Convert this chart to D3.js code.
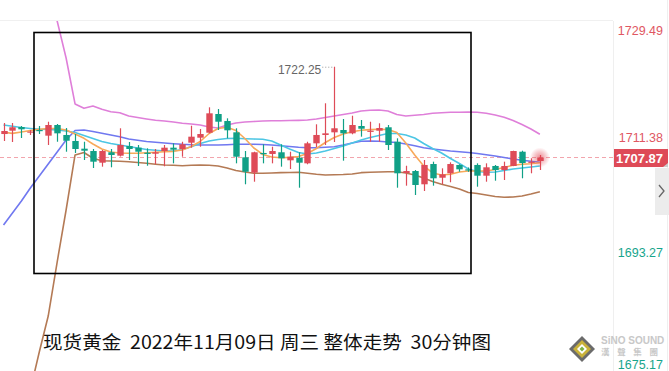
<!DOCTYPE html>
<html>
<head>
<meta charset="utf-8">
<script src="https://cdn.jsdelivr.net/npm/d3@7"></script>
<style>
  html, body { margin: 0; padding: 0; background: #fff; }
  svg { display: block; }
</style>
</head>
<body>
<div id="chart"></div>
<script>
// ---- data (30 min candles) ----
const opens  = [1711.59,1712.12,1712.70,1711.83,1712.23,1711.33,1713.02,1711.44,1710.49,1709.27,
                1708.90,1707.05,1708.70,1708.16,1709.69,1709.43,1708.63,1708.47,1708.90,1709.43,
                1709.22,1710.22,1711.01,1711.80,1714.76,1713.65,1711.86,1707.90,1705.47,1708.59,
                1708.43,1708.70,1707.43,1707.84,1706.95,1710.12,1711.44,1711.86,1712.23,1711.70,
                1712.86,1711.96,1712.12,1712.66,1710.37,1705.42,1705.73,1703.63,1706.84,1704.67,
                1705.37,1706.69,1706.00,1706.69,1704.99,1706.53,1705.89,1706.53,1708.79,1707.05,
                1707.32];
const highs  = [1713.34,1713.34,1712.86,1712.23,1712.86,1713.54,1713.18,1712.54,1711.59,1710.37,
                1709.22,1709.06,1709.22,1712.50,1710.33,1709.85,1709.33,1709.22,1709.85,1710.12,
                1710.37,1712.91,1712.39,1715.82,1715.55,1714.08,1712.50,1708.90,1708.79,1709.96,
                1709.58,1709.96,1708.79,1708.70,1710.37,1713.13,1716.46,1722.25,1713.97,1714.49,
                1713.81,1713.54,1713.29,1713.02,1710.91,1706.57,1705.89,1707.48,1707.21,1706.16,
                1707.11,1706.80,1706.30,1706.95,1706.95,1706.69,1707.21,1708.95,1708.95,1707.75,
                1708.27];
const lows   = [1710.49,1710.33,1710.96,1711.44,1711.59,1709.85,1710.37,1708.79,1708.59,1707.48,
                1706.21,1706.42,1706.32,1708.03,1707.48,1706.53,1706.57,1706.80,1706.48,1706.95,
                1708.00,1709.43,1709.58,1711.70,1712.23,1710.91,1706.95,1703.63,1704.04,1706.95,
                1706.95,1706.42,1706.05,1703.09,1706.80,1709.54,1709.85,1710.33,1707.37,1711.55,
                1711.17,1710.37,1710.37,1709.06,1703.09,1703.41,1701.93,1702.57,1703.41,1703.63,
                1703.95,1705.62,1705.60,1703.25,1704.04,1704.20,1704.31,1706.50,1704.58,1705.37,
                1705.89];
const closes = [1712.07,1712.66,1712.34,1711.99,1712.07,1713.02,1711.70,1710.53,1709.22,1708.95,
                1707.21,1708.90,1708.27,1709.85,1709.22,1708.79,1708.47,1708.70,1709.43,1709.11,
                1709.96,1711.17,1711.59,1714.87,1713.54,1712.18,1708.00,1705.62,1708.70,1708.43,
                1708.90,1707.75,1708.00,1707.05,1710.12,1711.44,1711.70,1712.50,1711.70,1713.02,
                1712.43,1712.12,1712.54,1709.85,1705.37,1705.73,1703.52,1706.69,1704.58,1705.21,
                1706.84,1706.00,1705.90,1704.99,1706.32,1705.89,1706.53,1708.90,1707.00,1707.21,
                1707.87];

// moving averages
const maShort = [1711.86,1711.70,1711.91,1712.15,1712.34,1712.47,1712.47,1712.23,1711.59,1710.91,
                 1710.01,1709.22,1708.74,1708.59,1708.54,1708.54,1708.63,1708.70,1708.79,1708.85,
                 1709.06,1709.61,1710.41,1711.67,1712.47,1712.66,1712.15,1710.88,1709.38,1708.35,
                 1707.95,1707.84,1707.90,1708.03,1708.51,1709.30,1710.25,1711.04,1711.59,1711.96,
                 1712.18,1712.28,1712.34,1712.31,1711.83,1710.17,1708.27,1706.53,1705.42,1705.10,
                 1705.21,1705.58,1705.73,1705.73,1705.73,1705.97,1706.29,1706.64,1706.80,1706.89,
                 1707.03];
const maMid   = [1713.02,1712.81,1712.62,1712.47,1712.34,1712.31,1712.23,1712.07,1711.83,1711.36,
                 1710.88,1710.41,1710.09,1709.85,1709.61,1709.38,1709.14,1709.01,1708.90,1708.90,
                 1709.14,1709.58,1710.09,1710.49,1710.72,1710.88,1710.91,1710.85,1710.80,1710.76,
                 1710.49,1709.85,1709.22,1708.66,1708.43,1708.59,1708.90,1709.30,1709.69,1710.17,
                 1710.64,1711.04,1711.36,1711.67,1711.67,1711.44,1710.96,1710.09,1709.30,1708.59,
                 1707.71,1706.92,1706.05,1705.66,1705.53,1705.58,1705.81,1706.05,1706.21,1706.37,
                 1706.53];
const maLong  = [1697.18,1699.08,1700.98,1703.04,1704.94,1706.84,1708.74,1710.64,1712.15,1712.23,
                 1711.99,1711.70,1711.44,1711.17,1710.80,1710.60,1710.41,1710.28,1710.17,1710.06,
                 1709.96,1709.90,1709.85,1709.85,1709.85,1709.90,1709.96,1709.96,1709.96,1709.93,
                 1709.85,1709.74,1709.61,1709.49,1709.42,1709.42,1709.49,1709.58,1709.85,1710.17,
                 1710.44,1710.49,1710.44,1710.33,1710.25,1710.01,1709.74,1709.42,1709.22,1709.06,
                 1708.90,1708.79,1708.66,1708.51,1708.32,1708.11,1707.87,1707.63,1707.43,1707.27,
                 1707.11];
// bollinger bands
const bandUpper = [1751.82,1747.86,1743.90,1739.94,1735.98,1732.50,1729.49,1723.63,1716.35,1715.66,
                   1716.03,1715.51,1715.13,1714.97,1714.44,1714.21,1713.97,1713.76,1713.65,1713.49,
                   1713.29,1713.18,1713.02,1712.70,1712.54,1713.02,1713.34,1713.49,1713.57,1713.65,
                   1713.70,1713.70,1713.73,1713.76,1713.81,1713.97,1714.21,1714.44,1714.68,1714.92,
                   1715.24,1715.35,1715.40,1715.24,1714.68,1714.44,1714.56,1714.68,1714.87,1714.97,
                   1715.03,1715.03,1715.08,1715.03,1714.87,1714.60,1714.24,1713.73,1713.10,1712.39,
                   1711.55];
const bandLower = [1653.63,1659.97,1665.51,1671.05,1677.07,1682.77,1691.32,1699.56,1708.27,1708.66,
                   1707.75,1707.37,1707.32,1707.27,1707.21,1707.08,1706.95,1706.80,1706.68,1706.64,
                   1706.57,1706.64,1706.68,1706.64,1706.53,1706.21,1705.81,1705.58,1705.37,1705.37,
                   1705.42,1705.47,1705.50,1705.53,1705.37,1705.21,1705.10,1705.15,1705.18,1705.26,
                   1705.47,1705.53,1705.58,1705.62,1705.62,1705.42,1705.10,1704.63,1704.07,1703.63,
                   1703.28,1702.88,1702.33,1702.17,1701.93,1701.70,1701.57,1701.62,1701.78,1702.09,
                   1702.46];

const priceTicks = [1729.49, 1711.38, 1693.27, 1675.17];
const lastPrice = 1707.87;
const titleText = "现货黄金  2022年11月09日 周三 整体走势  30分钟图";

// ---- layout ----
const width = 669, height = 371;
const plotRight = 613, plotTop = 21;
const upColor = "#de4b58", downColor = "#10a086";

const candles = opens.map((o, i) => ({
  i: i, open: o, high: highs[i], low: lows[i], close: closes[i]
}));

const svg = d3.select("#chart")
  .append("svg")
    .attr("width", width)
    .attr("height", height)
    .attr("viewBox", `0 0 ${width} ${height}`);

svg.append("defs").append("clipPath")
    .attr("id", "plotClip")
  .append("rect")
    .attr("x", 0).attr("y", plotTop)
    .attr("width", plotRight).attr("height", height - plotTop);

const glow = svg.select("defs").append("radialGradient").attr("id", "glow");
glow.append("stop").attr("offset", "0%").attr("stop-color", "#e0404e").attr("stop-opacity", 0.6);
glow.append("stop").attr("offset", "60%").attr("stop-color", "#e0404e").attr("stop-opacity", 0.25);
glow.append("stop").attr("offset", "100%").attr("stop-color", "#e0404e").attr("stop-opacity", 0);

// scales
const xScale = d3.scaleBand()
  .domain(candles.map(d => d.i))
  .range([-2.19, -2.19 + 8.98 * candles.length])
  .padding(0.28);
const xc = i => xScale(i) + xScale.bandwidth() / 2;

const yScale = d3.scaleLinear()
  .domain([1675.17, 1729.49])
  .range([364, plotTop]);

// frame lines
svg.append("line")
  .attr("x1", 0).attr("x2", plotRight)
  .attr("y1", plotTop - 0.5).attr("y2", plotTop - 0.5)
  .attr("stroke", "#f0f0f0");
svg.append("line")
  .attr("x1", plotRight + 0.5).attr("x2", plotRight + 0.5)
  .attr("y1", plotTop).attr("y2", height)
  .attr("stroke", "#efefef");
svg.append("line")
  .attr("x1", 667.5).attr("x2", 667.5)
  .attr("y1", 0).attr("y2", height)
  .attr("stroke", "#efefef");

const plot = svg.append("g").attr("clip-path", "url(#plotClip)");

// last price dashed line
plot.append("line")
  .attr("x1", 0).attr("x2", plotRight)
  .attr("y1", yScale(lastPrice)).attr("y2", yScale(lastPrice))
  .attr("stroke", "#f2a4ac")
  .attr("stroke-width", 1)
  .attr("stroke-dasharray", "4,3");

// indicator lines
const lineGen = d3.line()
  .x((d, i) => xc(i))
  .y(d => yScale(d));

const series = [
  { values: bandUpper, color: "#df7fd9" },
  { values: bandLower, color: "#b47a55" },
  { values: maLong,    color: "#7078f0" },
  { values: maMid,     color: "#4cc6e4" },
  { values: maShort,   color: "#f8a95a" }
];

plot.selectAll(".ind")
  .data(series)
  .join("path")
    .attr("class", "ind")
    .attr("d", d => lineGen(d.values))
    .attr("fill", "none")
    .attr("stroke", d => d.color)
    .attr("stroke-width", 1.6)
    .attr("stroke-linejoin", "round");

// candles
const candleG = plot.selectAll(".candle")
  .data(candles)
  .join("g")
    .attr("class", "candle");

candleG.append("line")
  .attr("x1", d => Math.round(xc(d.i)) + 0.5)
  .attr("x2", d => Math.round(xc(d.i)) + 0.5)
  .attr("y1", d => yScale(d.high))
  .attr("y2", d => yScale(d.low))
  .attr("stroke", d => d.close >= d.open ? upColor : downColor)
  .attr("stroke-width", 1.2);

candleG.append("rect")
  .attr("x", d => Math.round(xc(d.i)) + 0.5 - 3.2)
  .attr("y", d => yScale(Math.max(d.open, d.close)))
  .attr("width", 6.4)
  .attr("height", d => Math.max(1.2, Math.abs(yScale(d.open) - yScale(d.close))))
  .attr("fill", d => d.close >= d.open ? upColor : downColor);

// glow on the last candle
const last = candles[candles.length - 1];
plot.append("circle")
  .attr("cx", xc(last.i))
  .attr("cy", yScale(last.close))
  .attr("r", 10)
  .attr("fill", "url(#glow)");

// max price annotation
const maxIdx = d3.maxIndex(highs);
svg.append("line")
  .attr("x1", xc(maxIdx) - 12).attr("x2", xc(maxIdx) - 1)
  .attr("y1", yScale(highs[maxIdx]) + 0.5).attr("y2", yScale(highs[maxIdx]) + 0.5)
  .attr("stroke", "#999")
  .attr("stroke-dasharray", "1,2");
svg.append("text")
  .attr("x", xc(maxIdx) - 13)
  .attr("y", yScale(highs[maxIdx]) + 7.5)
  .attr("text-anchor", "end")
  .attr("font-family", "'Liberation Sans', Arial, sans-serif")
  .attr("font-size", 12)
  .attr("fill", "#666")
  .text(d3.format(".2f")(highs[maxIdx]));

// right price labels (top one pushed below its line, bottom one kept inside)
svg.selectAll(".tick-label")
  .data(priceTicks)
  .join("text")
    .attr("class", "tick-label")
    .attr("x", 663)
    .attr("y", (d, i) => Math.min(height - 2.5, yScale(d) + (i === 0 ? 13.5 : 7)))
    .attr("text-anchor", "end")
    .attr("font-family", "'Liberation Sans', Arial, sans-serif")
    .attr("font-size", 12.5)
    .attr("fill", d => d >= lastPrice ? "#e05762" : "#17a58c")
    .text(d => d3.format(".2f")(d));

// last price tag
svg.append("rect")
  .attr("x", 614).attr("y", yScale(lastPrice) - 8.5)
  .attr("width", 54).attr("height", 18)
  .attr("fill", "#de4a57");
svg.append("path")
  .attr("d", `M668,${yScale(lastPrice) + 5.5} L668,${yScale(lastPrice) + 9.5} L663,${yScale(lastPrice) + 9.5} Z`)
  .attr("fill", "#ccc");
svg.append("text")
  .attr("x", 663)
  .attr("y", yScale(lastPrice) + 5)
  .attr("text-anchor", "end")
  .attr("font-family", "'Liberation Sans', Arial, sans-serif")
  .attr("font-size", 13)
  .attr("font-weight", "bold")
  .attr("fill", "#fff")
  .text(d3.format(".2f")(lastPrice));

// scroll handle on the right
svg.append("rect")
  .attr("x", 655).attr("y", 168)
  .attr("width", 14).attr("height", 47)
  .attr("fill", "#ececec");
svg.append("path")
  .attr("d", "M659,185 L664,191 L659,197")
  .attr("fill", "none")
  .attr("stroke", "#666")
  .attr("stroke-width", 1.3);

// black box drawn over the chart
svg.append("rect")
  .attr("x", 34).attr("y", 32.5)
  .attr("width", 437).attr("height", 241)
  .attr("fill", "none")
  .attr("stroke", "#000")
  .attr("stroke-width", 1.6);

// title
svg.append("text")
  .attr("x", 43)
  .attr("y", 348.5)
  .attr("font-family", "'Noto Sans CJK SC', sans-serif")
  .attr("font-size", 18)
  .attr("fill", "#111")
  .attr("textLength", 448)
  .attr("lengthAdjust", "spacingAndGlyphs")
  .style("white-space", "pre")
  .text(titleText);

// watermark logo
const logo = svg.append("g").attr("transform", "translate(582,349)");
logo.append("path").attr("d", "M0,-13 L13,0 L0,13 L-13,0 Z").attr("fill", "#6b6b6b");
logo.append("path").attr("d", "M0,-9 L9,0 L0,9 L-9,0 Z").attr("fill", "#c9b23a");
logo.append("path").attr("d", "M0,-5 L5,0 L0,5 L-5,0 Z").attr("fill", "#fff");
logo.append("path").attr("d", "M0,-2.5 L2.5,0 L0,2.5 L-2.5,0 Z").attr("fill", "#7cb342");
svg.append("text")
  .attr("x", 601).attr("y", 344)
  .attr("font-family", "'Liberation Sans', Arial, sans-serif")
  .attr("font-size", 10)
  .attr("font-weight", "bold")
  .attr("fill", "#c8c8c8")
  .text("SiNO SOUND");
svg.append("text")
  .attr("x", 601).attr("y", 355)
  .attr("font-family", "'Noto Sans CJK TC', sans-serif")
  .attr("font-size", 8.5)
  .attr("font-weight", "bold")
  .attr("fill", "#c8c8c8")
  .attr("textLength", 57)
  .text("漢 聲 集 團");
</script>
</body>
</html>
